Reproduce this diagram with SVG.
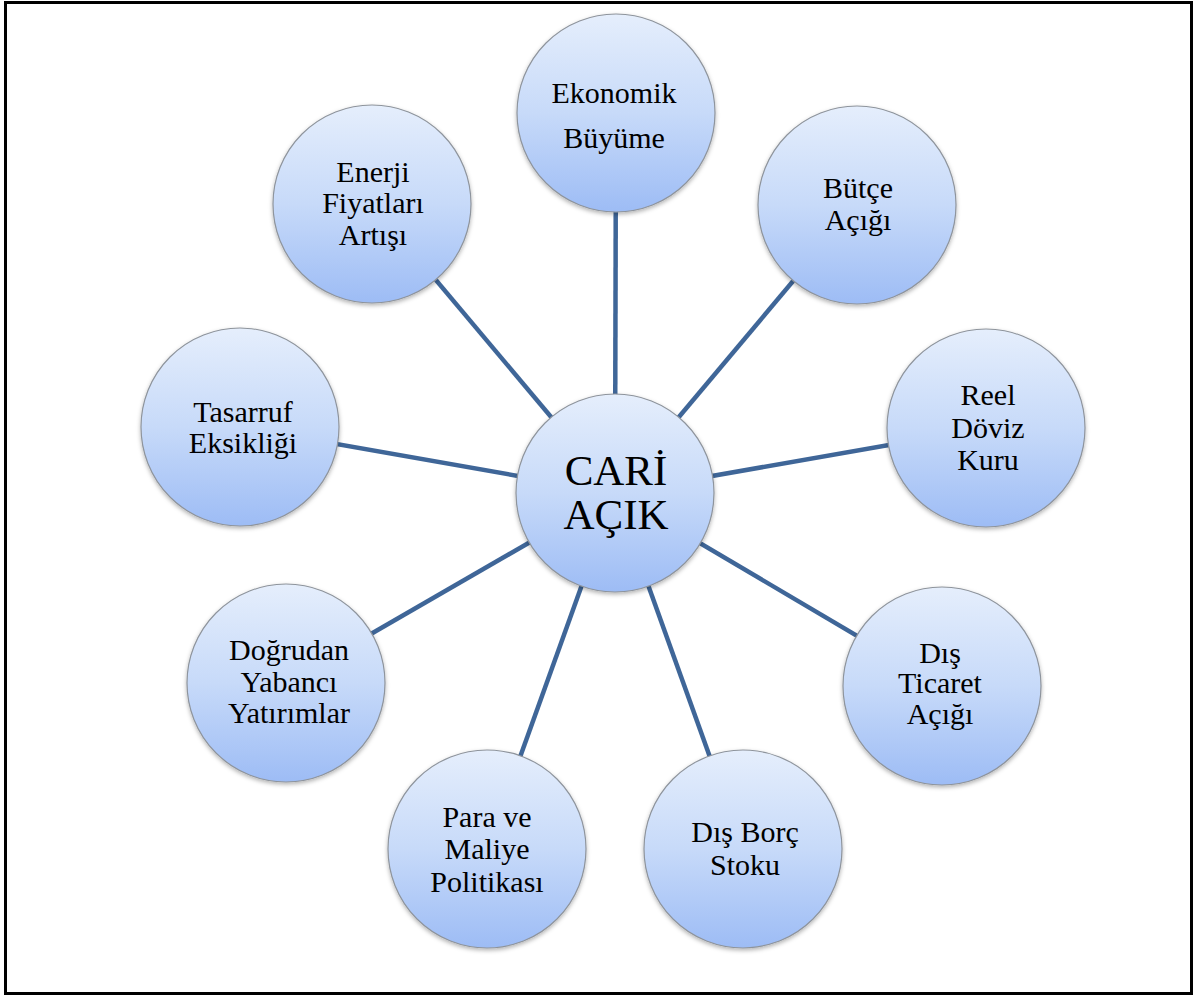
<svg xmlns="http://www.w3.org/2000/svg" width="1194" height="997" viewBox="0 0 1194 997">
<defs>
<linearGradient id="g" x1="0" y1="0" x2="0" y2="1">
<stop offset="0" stop-color="#E5EEFC"/>
<stop offset="0.5" stop-color="#C7DAF9"/>
<stop offset="1" stop-color="#9DBCF5"/>
</linearGradient>
<filter id="sh" x="-20%" y="-20%" width="140%" height="140%">
<feDropShadow dx="0" dy="2" stdDeviation="2" flood-color="#000" flood-opacity="0.3"/>
</filter>
<style>
.c{fill:url(#g);stroke:#8E949C;stroke-width:1.2;filter:url(#sh)}
.t{font-family:'Liberation Serif','Times New Roman',serif;font-size:30px;fill:#000;text-anchor:middle}
.big{font-size:43px}
.ln{stroke:#3F6698;stroke-width:4.5;fill:none}
</style>
</defs>
<rect x="0" y="0" width="1194" height="997" fill="#fff"/>
<rect x="5.5" y="2.5" width="1186" height="991" fill="none" stroke="#000" stroke-width="3"/>
<g id="connectors">
<line class="ln" x1="615" y1="493" x2="616" y2="113"/>
<line class="ln" x1="615" y1="493" x2="857" y2="205"/>
<line class="ln" x1="615" y1="493" x2="986" y2="428"/>
<line class="ln" x1="615" y1="493" x2="942" y2="686"/>
<line class="ln" x1="615" y1="493" x2="743" y2="849"/>
<line class="ln" x1="615" y1="493" x2="487" y2="849"/>
<line class="ln" x1="615" y1="493" x2="286" y2="683"/>
<line class="ln" x1="615" y1="493" x2="240" y2="427"/>
<line class="ln" x1="615" y1="493" x2="372" y2="204"/>
</g>
<g id="n-ekonomik"><circle class="c" cx="616" cy="113" r="99"/><text class="t" x="614" y="103">Ekonomik</text><text class="t" x="614" y="148">Büyüme</text></g>
<g id="n-butce"><circle class="c" cx="857" cy="205" r="99"/><text class="t" x="858" y="198">Bütçe</text><text class="t" x="858" y="230">Açığı</text></g>
<g id="n-reel"><circle class="c" cx="986" cy="428" r="99"/><text class="t" x="988" y="405">Reel</text><text class="t" x="988" y="438">Döviz</text><text class="t" x="988" y="470">Kuru</text></g>
<g id="n-disticaret"><circle class="c" cx="942" cy="686" r="99"/><text class="t" x="940" y="663">Dış</text><text class="t" x="940" y="693">Ticaret</text><text class="t" x="940" y="724">Açığı</text></g>
<g id="n-disborc"><circle class="c" cx="743" cy="849" r="99"/><text class="t" x="745" y="842">Dış Borç</text><text class="t" x="745" y="875">Stoku</text></g>
<g id="n-para"><circle class="c" cx="487" cy="849" r="99"/><text class="t" x="487" y="827">Para ve</text><text class="t" x="487" y="859">Maliye</text><text class="t" x="487" y="892">Politikası</text></g>
<g id="n-dogrudan"><circle class="c" cx="286" cy="683" r="99"/><text class="t" x="289" y="660">Doğrudan</text><text class="t" x="289" y="692">Yabancı</text><text class="t" x="289" y="723">Yatırımlar</text></g>
<g id="n-tasarruf"><circle class="c" cx="240" cy="427" r="99"/><text class="t" x="243" y="422">Tasarruf</text><text class="t" x="243" y="453">Eksikliği</text></g>
<g id="n-enerji"><circle class="c" cx="372" cy="204" r="99"/><text class="t" x="373" y="182">Enerji</text><text class="t" x="373" y="213">Fiyatları</text><text class="t" x="373" y="245">Artışı</text></g>
<g id="n-cari"><circle class="c" cx="615" cy="493" r="99"/><text class="t big" x="616" y="485">CARİ</text><text class="t big" x="616" y="529">AÇIK</text></g>
</svg>
